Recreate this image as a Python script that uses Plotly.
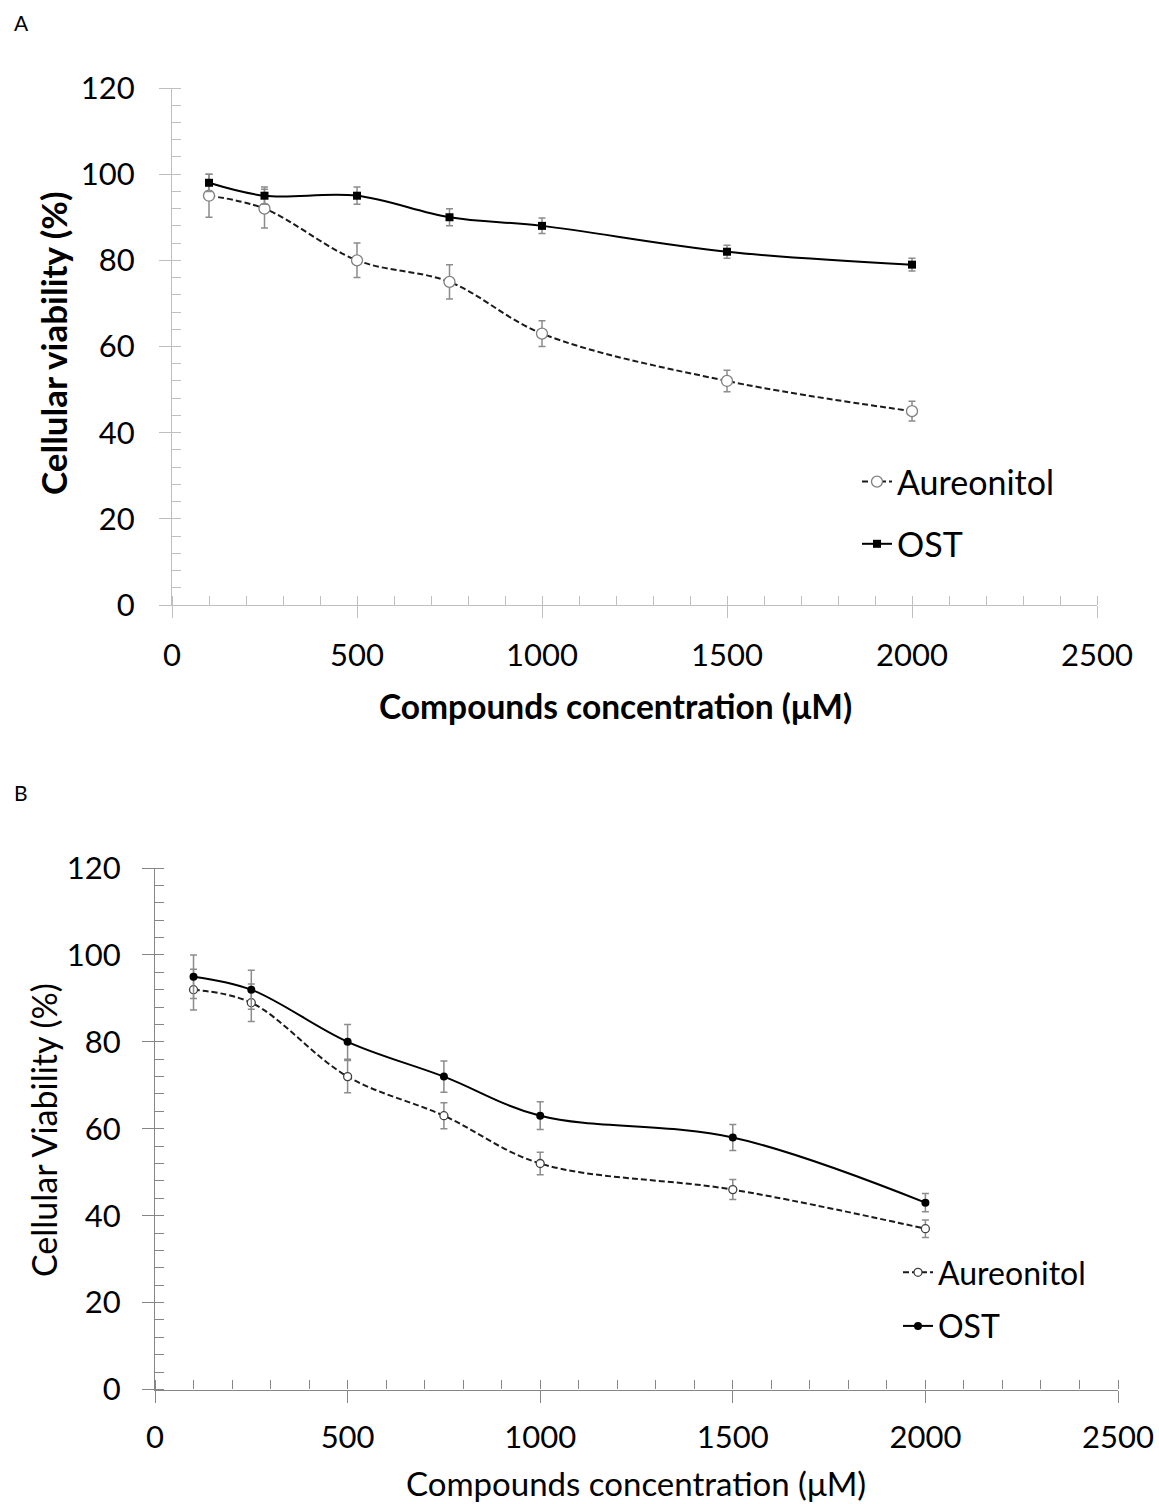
import plotly.graph_objects as go

conc = [100, 250, 500, 750, 1000, 1500, 2000]

# Panel A
a_aur = [95, 92, 80, 75, 63, 52, 45]
a_aur_err = [5, 4.5, 4, 4, 3, 2.5, 2.3]
a_ost = [98, 95, 95, 90, 88, 82, 79]
a_ost_err = [2, 2, 2, 2, 1.8, 1.5, 1.5]

# Panel B
b_aur = [92, 89, 72, 63, 52, 46, 37]
b_aur_err = [4.7, 4.3, 3.7, 3, 2.6, 2.3, 2]
b_ost = [95, 92, 80, 72, 63, 58, 43]
b_ost_err = [5, 4.5, 4, 3.6, 3.2, 3, 2.1]

x_ticks = [0, 500, 1000, 1500, 2000, 2500]
y_ticks = [0, 20, 40, 60, 80, 100, 120]

FONT = "Lato"
W, H = 1159, 1504

fig = go.Figure()

err_col = "#8c8c8c"

fig.add_trace(go.Scatter(
    x=conc, y=a_aur, name="Aureonitol", mode="lines+markers",
    line=dict(color="#1a1a1a", width=2, dash="6px,3px", shape="spline", smoothing=1),
    marker=dict(symbol="circle", size=11, color="white", line=dict(color="#808080", width=1.3)),
    error_y=dict(type="data", array=a_aur_err, color=err_col, thickness=1.5, width=3.5),
    xaxis="x", yaxis="y", legend="legend", legendgroup="a1",
))
fig.add_trace(go.Scatter(
    x=conc, y=a_ost, name="OST", mode="lines+markers",
    line=dict(color="black", width=2, shape="spline", smoothing=1),
    marker=dict(symbol="square", size=8, color="black"),
    error_y=dict(type="data", array=a_ost_err, color=err_col, thickness=1.5, width=3.5),
    xaxis="x", yaxis="y", legend="legend", legendgroup="a2",
))
fig.add_trace(go.Scatter(
    x=conc, y=b_aur, name="Aureonitol", mode="lines+markers",
    line=dict(color="#1a1a1a", width=2, dash="6px,3px", shape="spline", smoothing=1),
    marker=dict(symbol="circle", size=8, color="white", line=dict(color="#404040", width=1.3)),
    error_y=dict(type="data", array=b_aur_err, color=err_col, thickness=1.5, width=3.5),
    xaxis="x2", yaxis="y2", legend="legend2", legendgroup="b1",
))
fig.add_trace(go.Scatter(
    x=conc, y=b_ost, name="OST", mode="lines+markers",
    line=dict(color="black", width=2, shape="spline", smoothing=1),
    marker=dict(symbol="circle", size=8, color="black"),
    error_y=dict(type="data", array=b_ost_err, color=err_col, thickness=1.5, width=3.5),
    xaxis="x2", yaxis="y2", legend="legend2", legendgroup="b2",
))

def px_x(p):
    return p / W

def px_y(p):
    return 1 - p / H

A_col = "#bfbfbf"
B_col = "#868686"

def main_x(dom, anchor, col, standoff):
    return dict(domain=dom, anchor=anchor, range=[0, 2500], tickvals=x_ticks,
                ticks="outside", ticklen=12, tickwidth=1.3, tickcolor=col,
                showline=True, linecolor=col, linewidth=1.3,
                showgrid=False, zeroline=False, automargin=False,
                minor=dict(dtick=100, ticks="inside", ticklen=9, tickwidth=1.3, tickcolor=col, showgrid=False),
                tickfont=dict(family=FONT, size=31, color="black"),
                ticklabelstandoff=standoff)

def main_y(dom, anchor, col, standoff):
    return dict(domain=dom, anchor=anchor, range=[0, 120], tickvals=y_ticks,
                ticks="outside", ticklen=12, tickwidth=1.3, tickcolor=col,
                showline=True, linecolor=col, linewidth=1.3,
                showgrid=False, zeroline=False, automargin=False,
                minor=dict(dtick=4, ticks="inside", ticklen=9, tickwidth=1.3, tickcolor=col, showgrid=False),
                tickfont=dict(family=FONT, size=31, color="black"),
                ticklabelstandoff=standoff)

def over_x(ov, anchor, col):
    return dict(overlaying=ov, anchor=anchor, range=[0, 2500], tickvals=x_ticks,
                ticks="inside", ticklen=12, tickwidth=1.3, tickcolor=col, automargin=False,
                showticklabels=False, showline=False, showgrid=False, zeroline=False)

def over_y(ov, anchor, col):
    return dict(overlaying=ov, anchor=anchor, range=[0, 120], tickvals=y_ticks,
                ticks="inside", ticklen=12, tickwidth=1.3, tickcolor=col, automargin=False,
                showticklabels=False, showline=False, showgrid=False, zeroline=False)

fig.update_layout(
    width=W, height=H,
    autosize=False,
    margin=dict(l=0, r=0, t=0, b=0, pad=0, autoexpand=False),
    paper_bgcolor="white", plot_bgcolor="white",
    font=dict(family=FONT, color="black"),
    xaxis=main_x([px_x(172), px_x(1097)], "y", A_col, 11),
    yaxis=main_y([px_y(605), px_y(88)], "x", A_col, 18),
    xaxis2=main_x([px_x(155), px_x(1118)], "y2", B_col, 8),
    yaxis2=main_y([px_y(1389.5), px_y(868)], "x2", B_col, 15),
    xaxis3=over_x("x", "y", A_col),
    yaxis3=over_y("y", "x", A_col),
    xaxis4=over_x("x2", "y2", B_col),
    yaxis4=over_y("y2", "x2", B_col),
    legend=dict(x=px_x(857), y=px_y(453), xanchor="left", yanchor="top",
                font=dict(family=FONT, size=34, color="black"),
                bgcolor="rgba(0,0,0,0)", tracegroupgap=15, itemwidth=30),
    legend2=dict(x=px_x(898), y=px_y(1245), xanchor="left", yanchor="top",
                 font=dict(family=FONT, size=32, color="black"),
                 bgcolor="rgba(0,0,0,0)", tracegroupgap=9, itemwidth=30),
    showlegend=True,
    annotations=[
        dict(text="A", x=px_x(12), y=px_y(22), xref="paper", yref="paper",
             xanchor="left", yanchor="middle", showarrow=False,
             font=dict(family=FONT, size=21, color="black")),
        dict(text="B", x=px_x(12), y=px_y(793), xref="paper", yref="paper",
             xanchor="left", yanchor="middle", showarrow=False,
             font=dict(family=FONT, size=21, color="black")),
        dict(text="<b>Cellular viability (%)</b>", x=px_x(53), y=px_y(343), xref="paper", yref="paper",
             xanchor="center", yanchor="middle", showarrow=False, textangle=-90,
             font=dict(family=FONT, size=35, color="black")),
        dict(text="<b>Compounds concentration (μM)</b>", x=px_x(615), y=px_y(706), xref="paper", yref="paper",
             xanchor="center", yanchor="middle", showarrow=False,
             font=dict(family=FONT, size=33.5, color="black")),
        dict(text="Cellular Viability (%)", x=px_x(43), y=px_y(1130), xref="paper", yref="paper",
             xanchor="center", yanchor="middle", showarrow=False, textangle=-90,
             font=dict(family=FONT, size=34, color="black")),
        dict(text="Compounds concentration (μM)", x=px_x(636), y=px_y(1483), xref="paper", yref="paper",
             xanchor="center", yanchor="middle", showarrow=False,
             font=dict(family=FONT, size=33, color="black")),
    ],
)

fig.write_html("out.html", config={"displayModeBar": False},
               post_script="document.body.style.margin='0px';document.body.style.overflow='hidden';")
